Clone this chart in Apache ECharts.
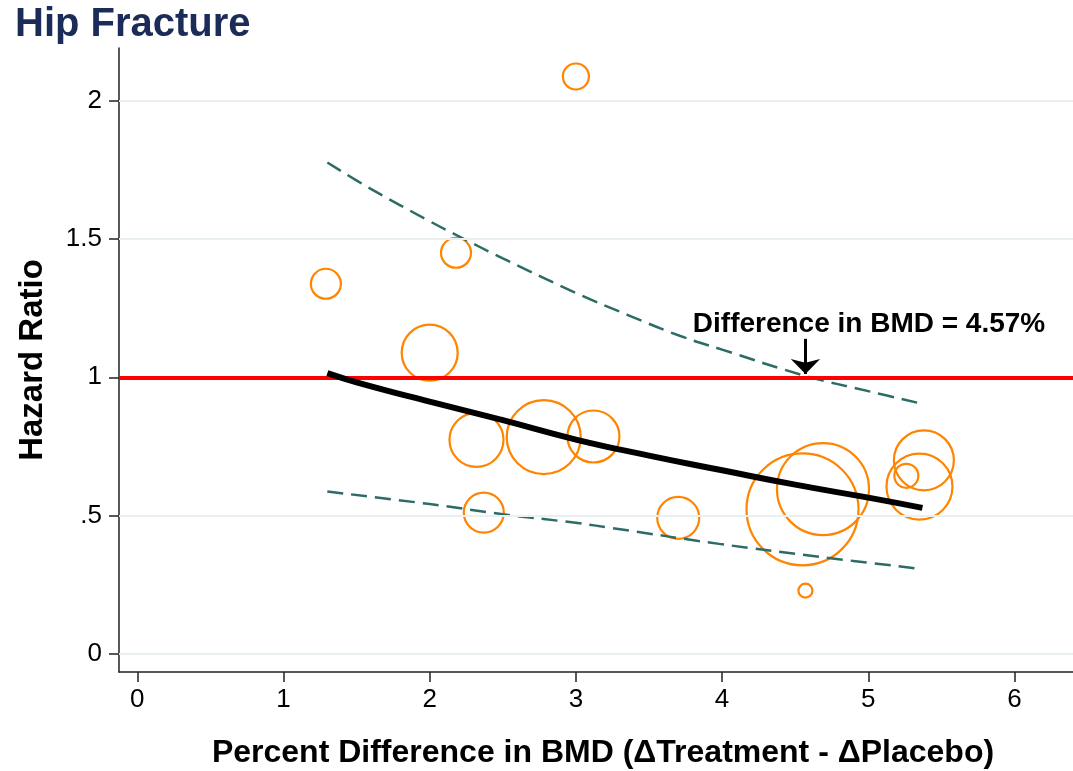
<!DOCTYPE html>
<html>
<head>
<meta charset="utf-8">
<title>Hip Fracture</title>
<script src="https://cdn.jsdelivr.net/npm/echarts@6/dist/echarts.min.js"></script>
<style>
  html, body { margin: 0; padding: 0; background: #ffffff; }
  #chart { width: 1073px; height: 771px; }
</style>
</head>
<body>
<div id="chart"></div>
<script>
// Trials: BMD difference (%), hazard ratio, relative study weight
const trialBmdDiff = [3.00, 2.18, 1.29, 2.00, 2.32, 2.78, 3.12, 2.37, 3.70, 4.55, 4.69, 5.38, 5.35, 5.26, 4.57];
const trialHazard  = [2.087, 1.45, 1.338, 1.089, 0.774, 0.784, 0.786, 0.511, 0.492, 0.523, 0.596, 0.700, 0.605, 0.644, 0.229];
const trialWeight  = [1.69, 2.25, 2.25, 7.84, 7.29, 13.69, 6.76, 4.0, 4.41, 31.36, 21.16, 9.0, 10.89, 1.44, 0.49];

// Meta-regression fit and its confidence band
const fitX  = [1.3, 1.5, 2.0, 2.5, 3.0, 3.5, 4.0, 4.5, 5.0, 5.37];
const fitHR = [1.015, 0.982, 0.912, 0.845, 0.775, 0.717, 0.664, 0.612, 0.565, 0.528];
const upperX  = [1.3, 1.6, 2.0, 2.16, 2.5, 3.0, 3.36, 3.71, 4.0, 4.57, 5.0, 5.37];
const upperHR = [1.776, 1.68, 1.564, 1.52, 1.43, 1.305, 1.224, 1.150, 1.10, 1.005, 0.95, 0.904];
const lowerX  = [1.3, 2.0, 2.5, 3.0, 3.25, 3.98, 4.67, 5.37];
const lowerHR = [0.587, 0.542, 0.505, 0.474, 0.455, 0.398, 0.351, 0.307];

// Threshold where the upper bound reaches HR = 1
const thresholdBmd = 4.57;
const referenceHR = 1;

// Axis ticks
const xTickValues = [0, 1, 2, 3, 4, 5, 6];
const yTickValues = [0, 0.5, 1, 1.5, 2];
const yTickLabels = ['0', '.5', '1', '1.5', '2'];

const FONT = '"Liberation Sans", Arial, Helvetica, sans-serif';
const zip = (xs, ys) => xs.map((x, i) => [x, ys[i]]);

const chart = echarts.init(document.getElementById('chart'), null, { renderer: 'canvas' });

const option = {
  backgroundColor: '#ffffff',
  animation: false,
  title: {
    text: 'Hip Fracture',
    left: 10,
    top: 0,
    textStyle: { fontFamily: FONT, fontSize: 40, fontWeight: 'bold', color: '#1b2c58' }
  },
  grid: { left: 119, right: 0, top: 48, bottom: 99, outerBoundsMode: 'none' },
  xAxis: {
    type: 'value',
    min: -0.125,
    max: 6.4,
    name: 'Percent Difference in BMD (\u0394Treatment - \u0394Placebo)',
    nameLocation: 'middle',
    nameGap: 65,
    nameTextStyle: { fontFamily: FONT, fontSize: 32, fontWeight: 'bold', color: '#000', padding: [0, 0, 0, 14] },
    axisLine: { show: true, onZero: false, lineStyle: { color: '#222', width: 1.5 } },
    axisTick: { show: true, length: 10, customValues: xTickValues, lineStyle: { color: '#222', width: 1.5 } },
    axisLabel: { customValues: xTickValues, margin: 15, fontFamily: FONT, fontSize: 26, color: '#000' },
    splitLine: { show: false }
  },
  yAxis: {
    type: 'value',
    min: -0.065,
    max: 2.19,
    name: 'Hazard Ratio',
    nameLocation: 'middle',
    nameGap: 70,
    nameTextStyle: { fontFamily: FONT, fontSize: 33, fontWeight: 'bold', color: '#000' },
    axisLine: { show: true, onZero: false, lineStyle: { color: '#222', width: 1.5 } },
    axisTick: { show: true, length: 10, customValues: yTickValues, lineStyle: { color: '#222', width: 1.5 } },
    axisLabel: {
      customValues: yTickValues,
      margin: 17,
      fontFamily: FONT, fontSize: 26, color: '#000',
      formatter: v => {
        const i = yTickValues.findIndex(t => Math.abs(t - v) < 1e-9);
        return i >= 0 ? yTickLabels[i] : '';
      }
    },
    splitLine: { show: false }
  },
  series: [
    {
      // horizontal grid lines
      type: 'line',
      data: [],
      silent: true,
      z: 1,
      markLine: {
        silent: true,
        symbol: ['none', 'none'],
        label: { show: false },
        lineStyle: { color: '#e9f0f2', width: 2, type: 'solid' },
        data: yTickValues.map(v => ({ yAxis: v }))
      }
    },
    {
      // individual trials, sized by weight
      type: 'scatter',
      z: 2,
      data: trialBmdDiff.map((x, i) => [x, trialHazard[i], trialWeight[i]]),
      symbol: 'circle',
      symbolSize: d => 20 * Math.sqrt(d[2]),
      itemStyle: { color: 'rgba(0,0,0,0)', borderColor: '#ff8400', borderWidth: 2.2, opacity: 1 },
      emphasis: { disabled: true }
    },
    {
      // reference line at HR = 1
      type: 'line',
      data: [],
      silent: true,
      z: 3,
      markLine: {
        silent: true,
        symbol: ['none', 'none'],
        label: { show: false },
        lineStyle: { color: '#ff0000', width: 4, type: 'solid' },
        data: [{ yAxis: referenceHR }]
      }
    },
    {
      type: 'line',
      z: 4,
      data: zip(upperX, upperHR),
      showSymbol: false,
      smooth: 0.4,
      lineStyle: { color: '#2c6b66', width: 2.5, type: [16, 8] }
    },
    {
      type: 'line',
      z: 4,
      data: zip(lowerX, lowerHR),
      showSymbol: false,
      smooth: 0.4,
      lineStyle: { color: '#2c6b66', width: 2.5, type: [16, 8] }
    },
    {
      type: 'line',
      z: 5,
      data: zip(fitX, fitHR),
      showSymbol: false,
      smooth: 0.5,
      lineStyle: { color: '#000000', width: 6, cap: 'butt' }
    },
    {
      // arrow pointing at the threshold
      type: 'line',
      data: [],
      silent: true,
      z: 6,
      markLine: {
        silent: true,
        symbol: ['none', 'arrow'],
        symbolSize: [22, 15],
        label: { show: false },
        lineStyle: { color: '#000', width: 3, type: 'solid', opacity: 1 },
        data: [[{ coord: [thresholdBmd, 1.139] }, { coord: [thresholdBmd, referenceHR + 0.012] }]]
      }
    },
    {
      // annotation text
      type: 'scatter',
      z: 7,
      silent: true,
      symbolSize: 0,
      itemStyle: { opacity: 1 },
      data: [[5.005, 1.19]],
      label: {
        show: true,
        position: 'inside',
        formatter: 'Difference in BMD = ' + thresholdBmd + '%',
        fontFamily: FONT,
        fontSize: 28,
        fontWeight: 'bold',
        color: '#000',
        opacity: 1,
        align: 'center',
        verticalAlign: 'middle'
      }
    }
  ]
};

chart.setOption(option);
</script>
</body>
</html>
